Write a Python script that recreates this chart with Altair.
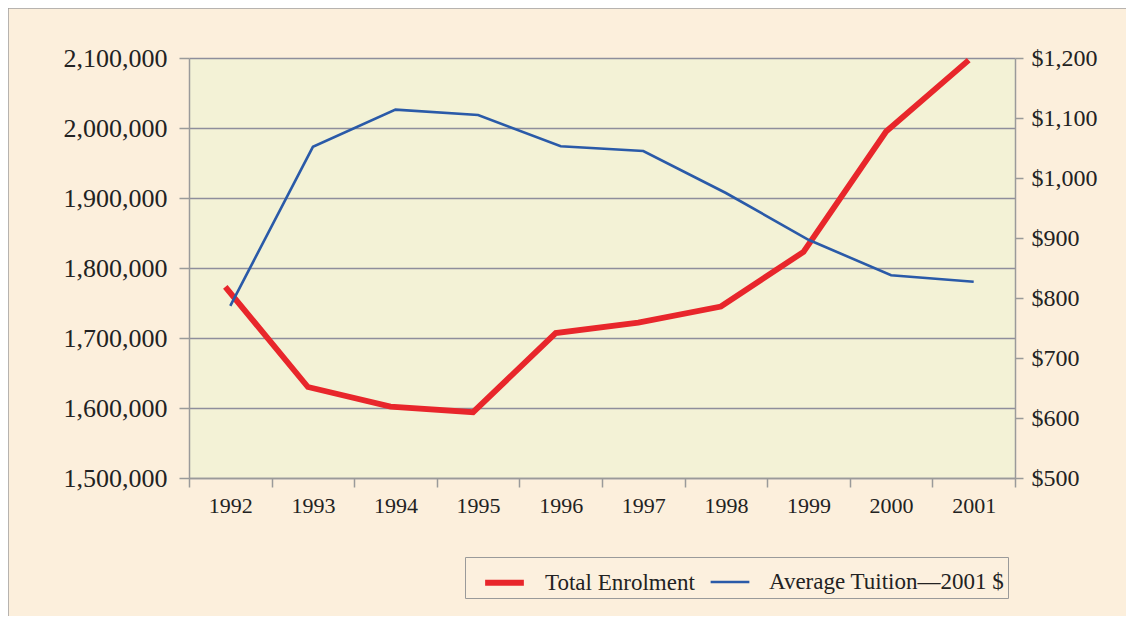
import altair as alt
import pandas as pd

years = ["1992", "1993", "1994", "1995", "1996", "1997", "1998", "1999", "2000", "2001"]
enrolment = [1773000, 1630000, 1602000, 1594000, 1707000, 1722000, 1745000, 1823000, 1995000, 2097000]
tuition = [787, 1052, 1114, 1105, 1053, 1045, 975, 897, 838, 827]
series_names = ["Total Enrolment", "Average Tuition\u20142001 $"]
series_colors = ["#e8262b", "#2a5aa8"]
series_widths = [5.8, 2.6]
left_ticks = [1500000, 1600000, 1700000, 1800000, 1900000, 2000000, 2100000]
right_ticks = [500, 600, 700, 800, 900, 1000, 1100, 1200]

df_e = pd.DataFrame({"year": years, "value": enrolment, "series": series_names[0]})
df_t = pd.DataFrame({"year": years, "value": tuition, "series": series_names[1]})

FONT = "Liberation Serif"
W, H = 826, 420
STEP = W / len(years)

xenc = alt.X("year:N", sort=years, title=None,
             scale=alt.Scale(type="band", paddingInner=0, paddingOuter=0),
             axis=alt.Axis(labelAngle=0, tickBand="extent", tickSize=9, labelPadding=8,
                           labelFontSize=22, labelFont=FONT, labelColor="#222",
                           domainColor="#9a9a9a", tickColor="#9a9a9a", domainWidth=1.5,
                           tickWidth=1.5, grid=False))

color = alt.Color("series:N", scale=alt.Scale(domain=series_names, range=series_colors),
                  legend=alt.Legend(title=None, orient="none", legendX=276, legendY=499,
                                    direction="horizontal", symbolType="stroke",
                                    symbolSize=1500, symbolStrokeWidth=4, symbolOffset=14,
                                    labelFont=FONT, labelFontSize=23, labelColor="#222",
                                    labelLimit=0, labelOffset=18, columnPadding=0, padding=3,
                                    strokeColor="#9a9a9a", fillColor="#fcf0de"))
swidth = alt.StrokeWidth("series:N", scale=alt.Scale(domain=series_names, range=series_widths),
                         legend=None)

left = alt.Chart(df_e).mark_line(strokeCap="butt", strokeJoin="miter").encode(
    x=xenc,
    xOffset=alt.value(STEP / 2 - 5),
    y=alt.Y("value:Q", title=None,
            scale=alt.Scale(domain=[1500000, 2100000], nice=False, zero=False),
            axis=alt.Axis(values=left_ticks, format=",d", orient="left", tickSize=10,
                          labelPadding=12, labelFontSize=26, labelFont=FONT, labelColor="#222",
                          domainColor="#9a9a9a", tickColor="#9a9a9a", domainWidth=1.5,
                          tickWidth=1.5, gridColor="#8e8e9c", gridWidth=1.5, grid=True)),
    color=color,
    strokeWidth=swidth,
)

right = alt.Chart(df_t).mark_line(strokeJoin="miter").encode(
    x=xenc,
    y=alt.Y("value:Q", title=None,
            scale=alt.Scale(domain=[500, 1200], nice=False, zero=False),
            axis=alt.Axis(values=right_ticks, format="$,d", orient="right", tickSize=8,
                          labelPadding=8, labelFontSize=24, labelFont=FONT, labelColor="#222",
                          domainColor="#9a9a9a", tickColor="#9a9a9a", domainWidth=1.5,
                          tickWidth=1.5, grid=False)),
    color=color,
    strokeWidth=swidth,
)

frame = alt.Chart(alt.Data(values=[{}])).mark_rect(fill=None, stroke="#a0a0a0", strokeWidth=1.5).encode(
    x=alt.value(-181), x2=alt.value(941), y=alt.value(-50), y2=alt.value(570)
)

chart = alt.layer(frame, left, right).resolve_scale(y="independent").properties(
    width=W, height=H,
    autosize=alt.AutoSizeParams(type="none"),
    padding={"left": 181, "top": 50, "right": 111, "bottom": 138},
    background="#fcefdc",
).configure_view(fill="#f3f2d6", stroke=None)

chart.save("out.html", embed_options={"renderer": "svg", "actions": False})
